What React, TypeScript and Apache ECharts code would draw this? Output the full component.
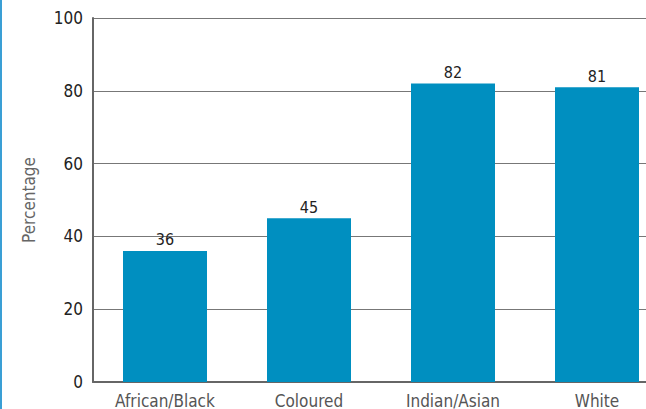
import React, { useEffect, useRef } from "react";
import * as echarts from "echarts";

const categories = ["African/Black", "Coloured", "Indian/Asian", "White"];
const values = [36, 45, 82, 81];
const yTicks = [0, 20, 40, 60, 80, 100];
const yAxisName = "Percentage";

const FONT = "'Liberation Sans Narrow', 'DejaVu Sans Condensed', 'Roboto Condensed', sans-serif";

export default function App() {
  const ref = useRef<HTMLDivElement>(null);
  useEffect(() => {
    document.body.style.margin = "0";
    const chart = echarts.init(ref.current!, null, { renderer: "svg" });
    chart.setOption({
      animation: false,
      backgroundColor: "#ffffff",
      graphic: [
        { type: "rect", shape: { x: 0, y: 0, width: 2, height: 409 }, style: { fill: "#3a9fd5" } },
      ],
      grid: { left: 93, right: 0, top: 18, bottom: 26, containLabel: false },
      xAxis: {
        type: "category",
        data: categories,
        axisLine: { lineStyle: { color: "#666666", width: 2 } },
        axisTick: { show: false },
        axisLabel: { color: "#555555", fontSize: 17, fontFamily: FONT, margin: 10 },
      },
      yAxis: {
        type: "value",
        min: yTicks[0],
        max: yTicks[yTicks.length - 1],
        interval: 20,
        name: yAxisName,
        nameLocation: "middle",
        nameGap: 56,
        nameTextStyle: { color: "#666666", fontSize: 17, fontFamily: FONT },
        axisLine: { show: true, lineStyle: { color: "#666666", width: 2 } },
        axisTick: { show: false },
        splitLine: { lineStyle: { color: "#777777", width: 1 } },
        axisLabel: { color: "#222222", fontSize: 17, fontFamily: FONT, margin: 10 },
      },
      series: [
        {
          type: "bar",
          data: values,
          barWidth: 84,
          itemStyle: { color: "#008fc0" },
          label: { show: true, position: "top", distance: 3, color: "#222222", fontSize: 16, fontFamily: FONT },
        },
      ],
    });
    return () => chart.dispose();
  }, []);
  return (
    <div style={{ width: 646, height: 409, overflow: "hidden", position: "relative" }}>
      <div ref={ref} style={{ width: 669, height: 409 }} />
    </div>
  );
}
